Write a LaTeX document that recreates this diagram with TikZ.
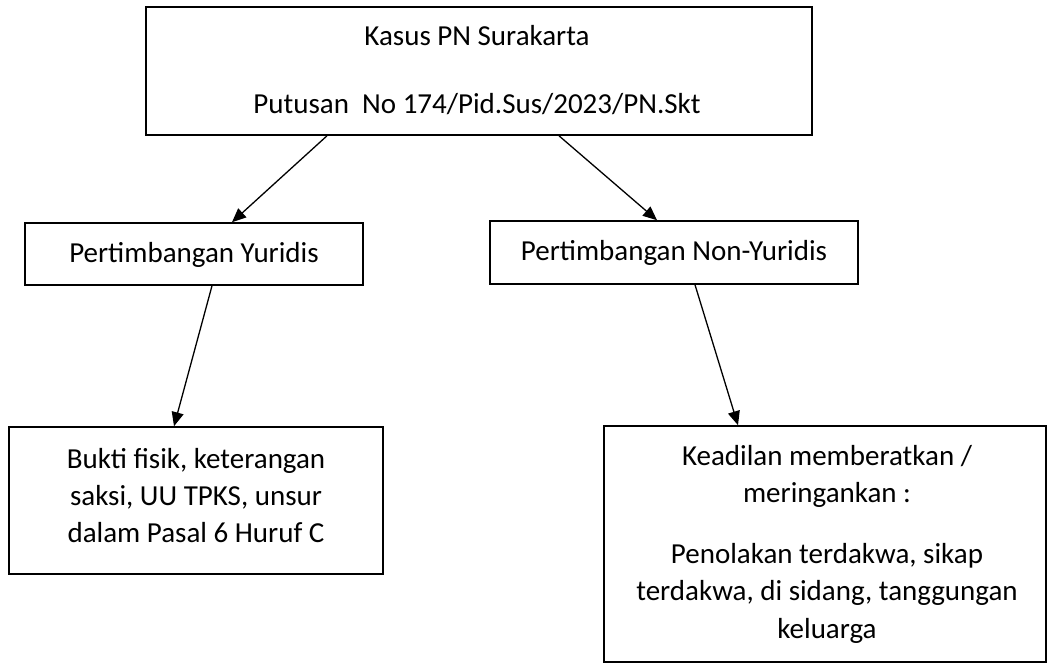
\documentclass[tikz,border=0pt]{standalone}
\usepackage{fontspec}
\setmainfont{Carlito}
\usetikzlibrary{arrows.meta}
\begin{document}
\begin{tikzpicture}[x=1pt,y=-1pt,
 box/.style={draw,line width=1.6pt,inner sep=0pt},
 lbl/.style={font=\fontsize{29}{36}\selectfont, inner sep=0pt, anchor=base},
 arr/.style={line width=1.3pt,-{Triangle[length=14pt,width=12pt]}}]
\useasboundingbox (0,0) rectangle (1049,664);
% boxes
\node[box, minimum width=666pt, minimum height=128pt] (top) at (479,71) {};
\node[box, minimum width=338pt, minimum height=62pt] (py) at (194,254) {};
\node[box, minimum width=368pt, minimum height=63pt] (pny) at (674,252.5) {};
\node[box, minimum width=374pt, minimum height=147pt] (bl) at (196,500.5) {};
\node[box, minimum width=442pt, minimum height=236pt] (br) at (825,544) {};
% texts
\node[lbl] (t1) at (477,45) {Kasus PN Surakarta};
\node[lbl] (t2) at (477,113) {Putusan\ \ No 174/Pid.Sus/2023/PN.Skt};
\node[lbl] (t3) at (194,262) {Pertimbangan Yuridis};
\node[lbl] (t4) at (674,260) {Pertimbangan Non-Yuridis};
\node[lbl] (t5a) at (196,468) {Bukti fisik, keterangan};
\node[lbl] (t5b) at (196,505) {saksi, UU TPKS, unsur};
\node[lbl] (t5c) at (196,542) {dalam Pasal 6 Huruf C};
\node[lbl] (t6a) at (827,465) {Keadilan memberatkan /};
\node[lbl] (t6b) at (827,502) {meringankan :};
\node[lbl] (t6c) at (827,563) {Penolakan terdakwa, sikap};
\node[lbl] (t6d) at (827,600) {terdakwa, di sidang, tanggungan};
\node[lbl] (t6e) at (827,638) {keluarga};
% connectors
\coordinate (a1s) at (top.south -| 327,0);
\coordinate (a1e) at (py.north -| 232,0);
\coordinate (a2s) at (top.south -| 559,0);
\coordinate (a2e) at (pny.north -| 657,0);
\coordinate (a3s) at (py.south -| 212,0);
\coordinate (a3e) at (bl.north -| 174,0);
\coordinate (a4s) at (pny.south -| 695,0);
\coordinate (a4e) at (br.north -| 738,0);
\draw[arr] (a1s) -- (a1e);
\draw[arr] (a2s) -- (a2e);
\draw[arr] (a3s) -- (a3e);
\draw[arr] (a4s) -- (a4e);
\end{tikzpicture}
\end{document}
